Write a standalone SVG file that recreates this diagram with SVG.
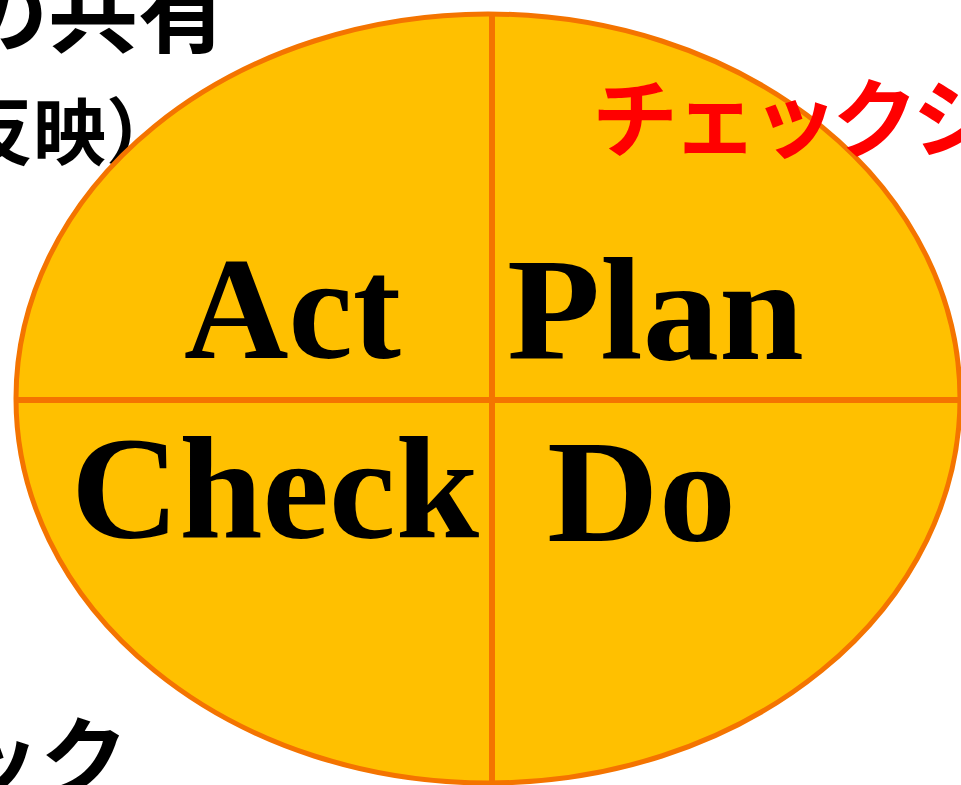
<svg xmlns="http://www.w3.org/2000/svg" width="961" height="785" viewBox="0 0 961 785">
  <style>
    .pdca { font-family: "Liberation Serif", "Times New Roman", serif; font-weight: bold; font-size: 146px; fill: #000; }
    .jp { font-family: "Noto Sans CJK JP", "Noto Sans", sans-serif; font-weight: bold; fill: #000; }
    .red { fill: #FF0000; }
    .div { stroke: #F47400; stroke-width: 6; fill: none; }
  </style>
  <rect width="961" height="785" fill="#FFFFFF"/>
  <g id="notes">
    <text class="jp" x="-42" y="45" font-size="90">の共有</text>
    <text class="jp" x="-40" y="159" font-size="73">反映）</text>
    <text class="jp" x="-48" y="790" font-size="88">ック</text>
  </g>
  <g id="cycle">
    <ellipse cx="488" cy="398.5" rx="472" ry="384.5" fill="#FFC000" stroke="#F47400" stroke-width="5"/>
    <line class="div" x1="492" y1="14" x2="492" y2="783"/>
    <line class="div" x1="16" y1="400" x2="961" y2="400"/>
  </g>
  <g id="connectors"></g>
  <g id="act"><text class="pdca" x="184" y="358" textLength="217" lengthAdjust="spacingAndGlyphs">Act</text></g>
  <g id="plan"><text class="pdca" x="507" y="359" textLength="297" lengthAdjust="spacingAndGlyphs">Plan</text></g>
  <g id="check"><text class="pdca" x="71" y="538" textLength="408" lengthAdjust="spacingAndGlyphs">Check</text></g>
  <g id="do"><text class="pdca" x="547" y="541" textLength="189" lengthAdjust="spacingAndGlyphs">Do</text></g>
  <g id="checksheet">
    <text class="jp red" x="592" y="151" font-size="86" letter-spacing="-6">チェックシ</text>
  </g>
</svg>
